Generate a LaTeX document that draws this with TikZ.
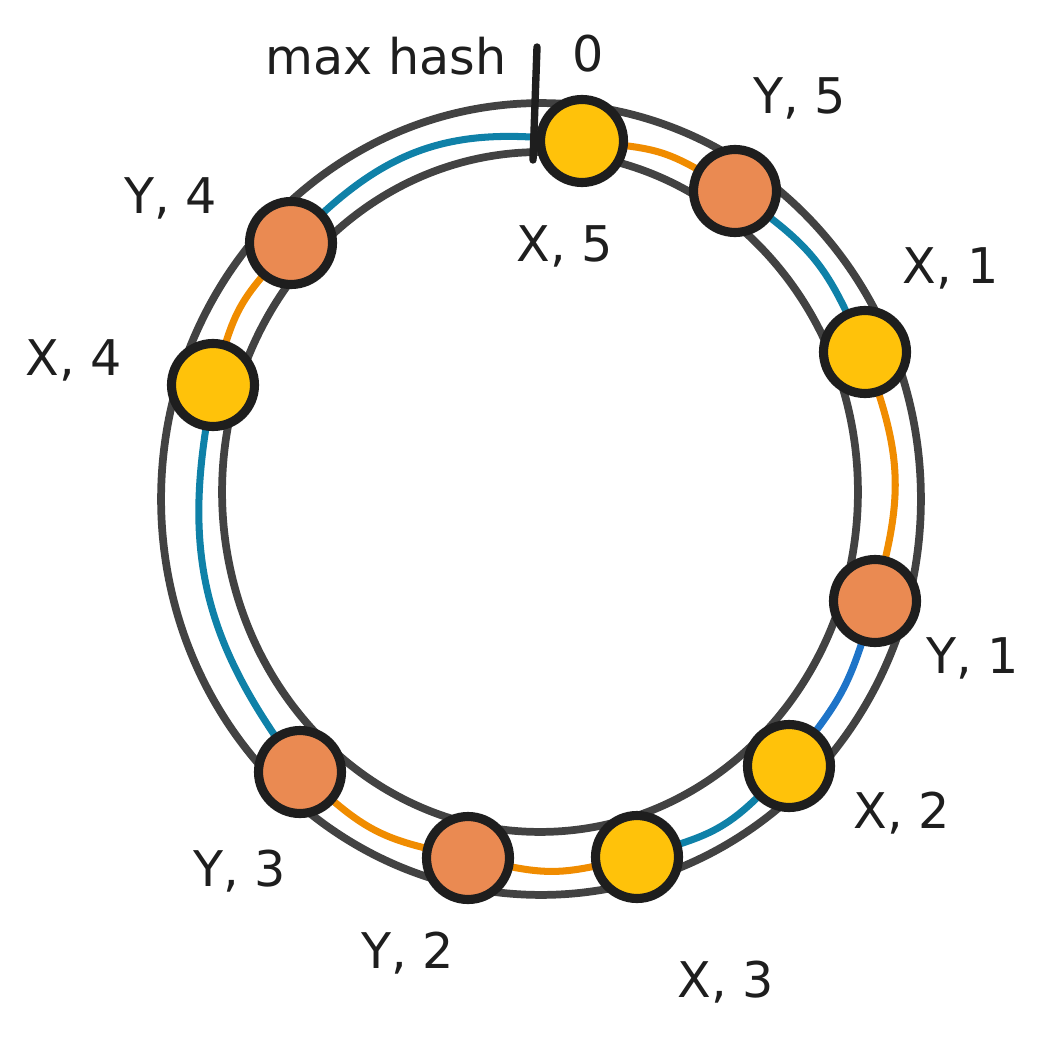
\documentclass[tikz,border=0pt]{standalone}
\usepackage{fontspec}
\setmainfont{DejaVu Sans}
\usetikzlibrary{backgrounds}
\definecolor{inkblack}{HTML}{1E1E1E}
\definecolor{ringgray}{HTML}{424242}
\definecolor{xyellow}{HTML}{FFC20A}
\definecolor{yorange}{HTML}{EA8A52}
\definecolor{hashorange}{HTML}{F08C00}
\definecolor{hashblue}{HTML}{0F81A8}
\definecolor{brightblue}{HTML}{1E74C8}
\begin{document}
\begin{tikzpicture}[x=0.02cm, y=-0.02cm,
    hashnode/.style={circle, draw=inkblack, line width=5.2pt, minimum size=1.66cm, inner sep=0pt},
    xnode/.style={hashnode, fill=xyellow},
    ynode/.style={hashnode, fill=yorange},
    lbl/.style={font=\fontsize{28}{34}\selectfont, text=inkblack, inner sep=0pt},
    ring/.style={draw=ringgray, line width=4.4pt},
    link/.style={line width=4pt, line cap=round, shorten <=-5pt, shorten >=-5pt}]
  \useasboundingbox (0,0) rectangle (1038,1037);
  \draw[inkblack, line width=4.2pt, line cap=round] (537,47) -- (533,160);
  \foreach \n/\x/\y in {x5/582/141, x1/865/352, x2/789/766, x3/637/857, x4/213/385}
    \node[xnode] (\n) at (\x,\y) {};
  \foreach \n/\x/\y in {y5/735/191, y1/875/601, y2/468/858, y3/300/772, y4/291/243}
    \node[ynode] (\n) at (\x,\y) {};
  \node[lbl] (maxhash) at (386,56) {max hash};
  \node[lbl] (zero) at (588,54) {0};
  \foreach \n/\t/\x/\y in {lx5/{X, 5}/565/246, ly5/{Y, 5}/800/98, lx1/{X, 1}/951/268,
      ly1/{Y, 1}/973/658, lx2/{X, 2}/902/813, lx3/{X, 3}/726/982, ly2/{Y, 2}/408/953,
      ly3/{Y, 3}/240/871, lx4/{X, 4}/74/360, ly4/{Y, 4}/171/198}
    \node[lbl] (\n) at (\x,\y) {\t};
  \begin{scope}[on background layer]
    \draw[ring] (541,499) ellipse [x radius=7.6cm, y radius=7.92cm];
    \draw[ring] (540,492) ellipse [x radius=6.36cm, y radius=6.8cm];
    \draw[link, hashblue] (y4) to[bend left=24] (x5);
    \draw[link, hashorange] (x5) to[bend left=12] (y5);
    \draw[link, hashblue] (y5) to[bend left=14] (x1);
    \draw[link, hashorange] (x1) to[bend left=16] (y1);
    \draw[link, brightblue] (y1) to[bend left=10] (x2);
    \draw[link, hashblue] (x2) to[bend left=14] (x3);
    \draw[link, hashorange] (x3) to[bend left=12] (y2);
    \draw[link, hashorange] (y2) to[bend left=14] (y3);
    \draw[link, hashblue] (y3) to[bend left=22] (x4);
    \draw[link, hashorange] (x4) to[bend left=12] (y4);
  \end{scope}
\end{tikzpicture}
\end{document}
